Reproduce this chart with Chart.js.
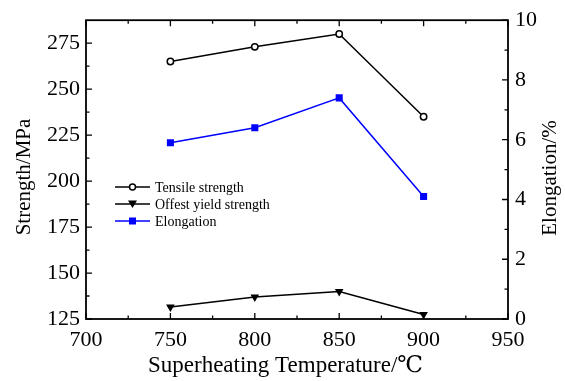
<!DOCTYPE html>
<html>
<head>
<meta charset="utf-8">
<script src="https://cdn.jsdelivr.net/npm/chart.js@4.4.1/dist/chart.umd.min.js"></script>
<style>
  html, body { margin: 0; padding: 0; background: #fff; }
  #wrap { width: 565px; height: 381px; }
</style>
</head>
<body>
<div id="wrap"><canvas id="chart"></canvas></div>
<script>
// data
const temps = [750, 800, 850, 900];
const tensile = [265, 273, 280, 235];
const yieldStrength = [131.5, 137, 140, 127.5];
const elongation = [5.9, 6.4, 7.4, 4.1];

const xTicks = [700, 750, 800, 850, 900, 950];
const leftTicks = [125, 150, 175, 200, 225, 250, 275];
const rightTicks = [0, 2, 4, 6, 8, 10];

const serif = "'Liberation Serif', 'DejaVu Serif', serif";

function pts(ys) {
  return temps.map((t, i) => ({ x: t, y: ys[i] }));
}

// frame, inward ticks (major + minor), axis titles, legend
const decorations = {
  id: "decorations",
  afterDraw(chart) {
    const ctx = chart.ctx;
    const a = chart.chartArea;
    const sx = chart.scales.x, sl = chart.scales.y, sr = chart.scales.y2;
    ctx.save();
    ctx.strokeStyle = "#000";
    ctx.lineWidth = 1.8;
    ctx.strokeRect(a.left, a.top, a.right - a.left, a.bottom - a.top);

    ctx.lineWidth = 1.3;
    const major = 6, minor = 3.5;
    ctx.beginPath();
    xTicks.forEach((v, i) => {
      const px = sx.getPixelForValue(v);
      ctx.moveTo(px, a.bottom); ctx.lineTo(px, a.bottom - major);
      ctx.moveTo(px, a.top); ctx.lineTo(px, a.top + major);
      if (i < xTicks.length - 1) {
        const m = sx.getPixelForValue((v + xTicks[i + 1]) / 2);
        ctx.moveTo(m, a.bottom); ctx.lineTo(m, a.bottom - minor);
        ctx.moveTo(m, a.top); ctx.lineTo(m, a.top + minor);
      }
    });
    leftTicks.forEach((v) => {
      const py = sl.getPixelForValue(v);
      ctx.moveTo(a.left, py); ctx.lineTo(a.left + major, py);
      const m = sl.getPixelForValue(v + 12.5);
      if (m > a.top + 2) { ctx.moveTo(a.left, m); ctx.lineTo(a.left + minor, m); }
    });
    rightTicks.forEach((v, i) => {
      const py = sr.getPixelForValue(v);
      ctx.moveTo(a.right, py); ctx.lineTo(a.right - major, py);
      if (i < rightTicks.length - 1) {
        const m = sr.getPixelForValue(v + 1);
        ctx.moveTo(a.right, m); ctx.lineTo(a.right - minor, m);
      }
    });
    ctx.stroke();

    // axis titles
    ctx.fillStyle = "#000";
    ctx.font = "21px " + serif;
    ctx.textAlign = "center";
    ctx.textBaseline = "middle";
    ctx.save();
    ctx.translate(24, 177);
    ctx.rotate(-Math.PI / 2);
    ctx.fillText("Strength/MPa", 0, 0);
    ctx.restore();
    ctx.save();
    ctx.translate(550, 178);
    ctx.rotate(-Math.PI / 2);
    ctx.fillText("Elongation/%", 0, 0);
    ctx.restore();
    ctx.font = "23px " + serif;
    ctx.textAlign = "left";
    ctx.textBaseline = "alphabetic";
    ctx.fillText("Superheating Temperature/℃", 148, 372);

    // legend inside the plot
    ctx.font = "14px " + serif;
    ctx.textBaseline = "middle";
    const x0 = 115, x1 = 150, tx = 155;
    const rows = [187, 204, 221];
    chart.data.datasets.forEach((ds, i) => {
      const y = rows[i];
      ctx.strokeStyle = ds.borderColor;
      ctx.lineWidth = 1.5;
      ctx.beginPath();
      ctx.moveTo(x0, y); ctx.lineTo(x1, y);
      ctx.stroke();
      const cx = (x0 + x1) / 2;
      ctx.fillStyle = ds.pointBackgroundColor;
      ctx.beginPath();
      if (ds.pointStyle === "circle") {
        ctx.arc(cx, y, 3, 0, Math.PI * 2);
        ctx.fill(); ctx.stroke();
      } else if (ds.pointStyle === "triangle") {
        ctx.moveTo(cx - 4.5, y - 3.5); ctx.lineTo(cx + 4.5, y - 3.5); ctx.lineTo(cx, y + 4);
        ctx.closePath(); ctx.fill();
      } else {
        ctx.rect(cx - 3.5, y - 3.5, 7, 7);
        ctx.fill();
      }
      ctx.fillStyle = "#000";
      ctx.fillText(ds.label, tx, y + 1);
    });
    ctx.restore();
  }
};

const ctx = document.getElementById("chart").getContext("2d");
const chart = new Chart(ctx, {
  type: "line",
  data: {
    datasets: [
      {
        label: "Tensile strength",
        data: pts(tensile),
        yAxisID: "y",
        borderColor: "#000",
        borderWidth: 1.5,
        pointStyle: "circle",
        pointRadius: 3.2,
        pointBorderWidth: 1.5,
        pointBorderColor: "#000",
        pointBackgroundColor: "#fff",
      },
      {
        label: "Offest yield strength",
        data: pts(yieldStrength),
        yAxisID: "y",
        borderColor: "#000",
        borderWidth: 1.5,
        pointStyle: "triangle",
        pointRotation: 180,
        pointRadius: 5,
        pointBorderWidth: 0,
        pointBorderColor: "#000",
        pointBackgroundColor: "#000",
      },
      {
        label: "Elongation",
        data: pts(elongation),
        yAxisID: "y2",
        borderColor: "#0000ff",
        borderWidth: 1.5,
        pointStyle: "rect",
        pointRadius: 5,
        pointBorderWidth: 0,
        pointBorderColor: "#0000ff",
        pointBackgroundColor: "#0000ff",
      },
    ],
  },
  plugins: [decorations],
  options: {
    responsive: true,
    maintainAspectRatio: false,
    animation: false,
    layout: { padding: { top: 19, left: 0, right: 0, bottom: 0 } },
    plugins: {
      legend: { display: false },
      tooltip: { enabled: false },
    },
    scales: {
      x: {
        type: "linear",
        min: 700,
        max: 950,
        grid: { display: false, drawTicks: false },
        border: { display: false },
        afterBuildTicks: (s) => { s.ticks = xTicks.map((v) => ({ value: v })); },
        afterFit: (s) => { s.height = 62; },
        ticks: { color: "#000", padding: 8, maxRotation: 0, font: { family: serif, size: 22 } },
      },
      y: {
        position: "left",
        min: 125,
        max: 287.5,
        grid: { display: false, drawTicks: false },
        border: { display: false },
        afterBuildTicks: (s) => { s.ticks = leftTicks.map((v) => ({ value: v })); },
        afterFit: (s) => { s.width = 86; },
        ticks: { color: "#000", padding: 6, font: { family: serif, size: 22 } },
      },
      y2: {
        position: "right",
        min: 0,
        max: 10,
        grid: { display: false, drawTicks: false },
        border: { display: false },
        afterBuildTicks: (s) => { s.ticks = rightTicks.map((v) => ({ value: v })); },
        afterFit: (s) => { s.width = 57; },
        ticks: { color: "#000", padding: 7, font: { family: serif, size: 22 } },
      },
    },
  },
});
</script>
</body>
</html>
